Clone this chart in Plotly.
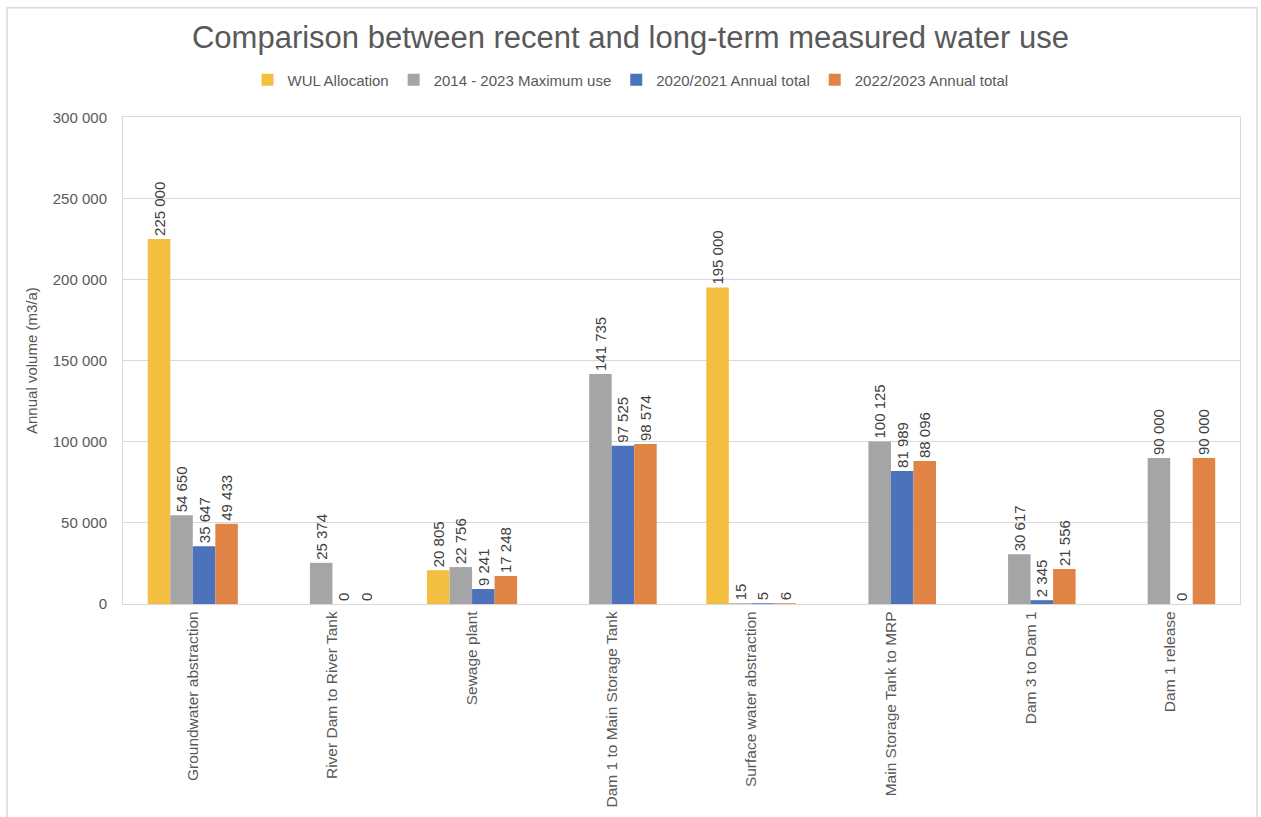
import plotly.graph_objects as go

categories = ["Groundwater abstraction", "River Dam to River Tank", "Sewage plant",
              "Dam 1 to Main Storage Tank", "Surface water abstraction",
              "Main Storage Tank to MRP", "Dam 3 to Dam 1", "Dam 1 release"]
wul_allocation = [225000, None, 20805, None, 195000, None, None, None]
max_use_2014_2023 = [54650, 25374, 22756, 141735, 15, 100125, 30617, 90000]
total_2020_2021 = [35647, 0, 9241, 97525, 5, 81989, 2345, 0]
total_2022_2023 = [49433, 0, 17248, 98574, 6, 88096, 21556, 90000]

series = [
    ("WUL Allocation", wul_allocation, "#F4BF40"),
    ("2014 - 2023 Maximum use", max_use_2014_2023, "#A5A5A5"),
    ("2020/2021 Annual total", total_2020_2021, "#4D72BC"),
    ("2022/2023 Annual total", total_2022_2023, "#E08344"),
]

FONT = "Liberation Sans, Arial, sans-serif"
TXT = "#595959"

fig = go.Figure()
for name, vals, color in series:
    fig.add_trace(go.Bar(
        name=name, x=categories, y=vals,
        marker=dict(color=color, line=dict(width=0)),
        texttemplate="%{y:,d}", textposition="outside", textangle=-90,
        constraintext="none", cliponaxis=False,
        textfont=dict(family=FONT, size=15, color="#404040"),
    ))

fig.update_layout(
    width=1261, height=817,
    paper_bgcolor="white", plot_bgcolor="white",
    separators=". ",
    barmode="group", bargap=0.355, bargroupgap=0,
    margin=dict(l=123, r=21, t=115, b=213),
    title=dict(text="Comparison between recent and long-term measured water use",
               x=0.5, xref="container", xanchor="center",
               y=1 - 37 / 817, yref="container", yanchor="middle",
               font=dict(family=FONT, size=31, color=TXT)),
    legend=dict(orientation="h", x=0.5, xref="container", xanchor="center",
                y=1 - 80 / 817, yref="container", yanchor="middle",
                font=dict(family=FONT, size=15, color=TXT),
                itemwidth=30, tracegroupgap=0),
    font=dict(family=FONT, color=TXT),
    showlegend=True,
)
fig.update_yaxes(range=[0, 300000], dtick=50000, tickformat=",d",
                 gridcolor="#D9D9D9", gridwidth=1.3, zeroline=True,
                 zerolinecolor="#D9D9D9", zerolinewidth=1.3,
                 showline=True, linecolor="#D9D9D9", linewidth=1, mirror=True,
                 ticks="", ticklabelstandoff=12,
                 tickfont=dict(family=FONT, size=15, color=TXT),
                 title=dict(text="Annual volume (m3/a)", standoff=11,
                            font=dict(family=FONT, size=15, color=TXT)))
fig.update_xaxes(tickangle=-90, showline=True, linecolor="#D9D9D9", linewidth=1.3,
                 mirror=True, ticks="", automargin=False,
                 tickfont=dict(family=FONT, size=15.5, color=TXT))

# outer chart frame
fig.add_shape(type="rect", xref="paper", yref="paper",
              x0=-116 / 1117, x1=1 + 17 / 1117, y0=-1.0, y1=1 + 110 / 489,
              line=dict(color="#D9D9D9", width=1.5), fillcolor="rgba(0,0,0,0)", layer="below")

fig.write_html("out.html")
